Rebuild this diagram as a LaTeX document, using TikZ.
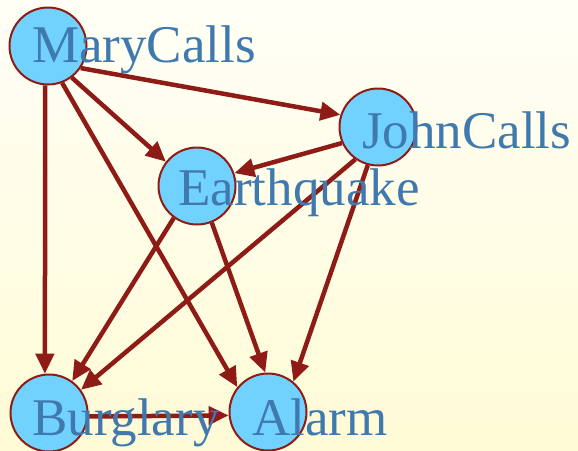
\documentclass[tikz,border=0pt]{standalone}
\usepackage{fontspec}
\setmainfont{Liberation Serif}
\usetikzlibrary{arrows.meta}

\definecolor{netred}{HTML}{8E1B15}
\definecolor{netblue}{HTML}{72D2FF}
\definecolor{nettext}{HTML}{3F79AD}

\begin{document}
\begin{tikzpicture}[x=1pt,y=-1pt,
    var/.style={circle,draw=netred,line width=2pt,fill=netblue,minimum size=77pt,inner sep=0pt},
    vartext/.style={anchor=base west,inner sep=0pt,text=nettext,font=\fontsize{53}{60}\selectfont},
    dep/.style={draw=netred,line width=4.5pt,-{Triangle[length=20pt,width=18pt]}}]
  % background
  \useasboundingbox (0,0) rectangle (578,450);
  \shade[top color={rgb,255:red,255;green,255;blue,246},bottom color={rgb,255:red,255;green,251;blue,214}]
    (0,0) rectangle (578,450);

  % Place nodes
  \node[var] (mary) at (48,46) {};
  \node[var] (john) at (378,127) {};
  \node[var] (quake) at (197,186) {};
  \node[var] (burglary) at (49,413) {};
  \node[var] (alarm) at (268,412) {};

  % arcs, attached at fixed points of the circles
  \draw[dep] (mary.-34) -- (john.162);
  \draw[dep] (mary.-53) -- (quake.142);
  \draw[dep] (mary.-94) -- (burglary.96);
  \draw[dep] (mary.-69) -- (alarm.141);
  \draw[dep] (john.-156) -- (quake.19);
  \draw[dep] (john.-125) -- (burglary.36);
  \draw[dep] (john.-105) -- (alarm.50);
  \draw[dep] (quake.-126) -- (burglary.54);
  \draw[dep] (quake.-68) -- (alarm.94);
  \draw[dep] (burglary.-5) -- (alarm.185);

  % names on top
  \node[vartext] (maryname) at (32,62) {MaryCalls};
  \node[vartext] (johnname) at (362,148) {JohnCalls};
  \node[vartext] (quakename) at (178,205) {Earthquake};
  \node[vartext] (burglaryname) at (32,435) {Burglary};
  \node[vartext] (alarmname) at (252,435) {Alarm};
\end{tikzpicture}
\end{document}
